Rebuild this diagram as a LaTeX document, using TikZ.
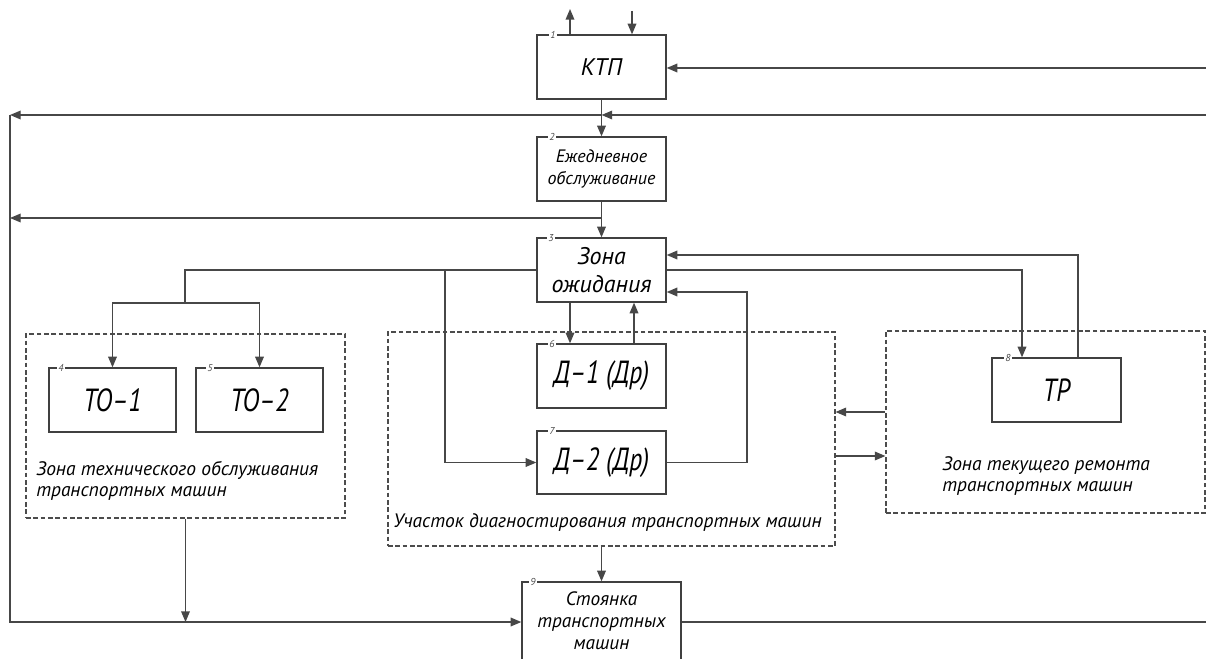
\documentclass[tikz,border=0pt]{standalone}
\usepackage{fontspec}
\setmainfont{PT Sans}
\newfontfamily\gostfont{PT Sans}
\newfontfamily\gostbig{PT Sans}[FakeStretch=0.8]
\usetikzlibrary{arrows.meta,fit}
\tikzset{
  ln/.style={draw=black!72, line width=1pt},
  conn/.style={ln, -{Triangle[length=8pt,width=6.5pt]}},
  frame/.style={draw=black!75, line width=1pt, inner sep=0pt},
  txt/.style={align=center, inner sep=0pt,
    font=\gostfont\itshape\fontsize{13.5}{16.5}\selectfont},
  txtmid/.style={txt, font=\gostfont\itshape\fontsize{18}{21}\selectfont},
  txtbig/.style={txt, font=\gostbig\itshape\fontsize{24}{26}\selectfont},
  zone/.style={draw=black!70, line width=0.8pt, dash pattern=on 3.5pt off 2pt, inner sep=0pt},
  zonetext/.style={align=left, inner sep=0pt, anchor=west,
    font=\gostfont\itshape\fontsize{14.6}{15.5}\selectfont},
  num/.style={fill=white, inner sep=1pt, font=\gostfont\itshape\fontsize{7.5}{8}\selectfont, text=black!70},
}
\begin{document}
\begin{tikzpicture}[x=0.75pt,y=-0.75pt]
\useasboundingbox (0,0) rectangle (1206,659);
\clip (0,0) rectangle (1206,659);
% zones
\node[zone, fit={(26,334) (345,518)}] (zTO) {};
\node[zone, fit={(388,332) (835,546)}] (zD) {};
\node[zone, fit={(886,331) (1205,513)}] (zTR) {};
\node[zonetext] (tTO) at (36,481) {Зона технического обслуживания\\транспортных машин};
\node[zonetext] (tD) at (393,523) {Участок диагностирования транспортных машин};
\node[zonetext] (tTR) at (942,476) {Зона текущего ремонта\\транспортных машин};
% boxes
\node[frame, fit={(537,35) (666,99)}] (ktp) {};
\node[frame, fit={(537,137) (666,201)}] (ed) {};
\node[frame, fit={(537,238) (666,302)}] (zo) {};
\node[frame, fit={(49,368) (176,432)}] (to1) {};
\node[frame, fit={(196,368) (323,432)}] (to2) {};
\node[frame, fit={(537,344) (666,408)}] (d1) {};
\node[frame, fit={(537,431) (666,494)}] (d2) {};
\node[frame, fit={(992,358) (1121,422)}] (tr) {};
\node[frame, fit={(522,582) (681,668)}] (st) {};
\node[txtmid] (lktp) at (ktp.center) {КТП};
\node[txt] (led) at (ed.center) {Ежедневное\\обслуживание};
\node[txtmid] (lzo) at (zo.center) {Зона\\ожидания};
\node[txtbig] (lto1) at (to1.center) {ТО–1};
\node[txtbig] (lto2) at (to2.center) {ТО–2};
\node[txtbig] (ld1) at (d1.center) {Д–1 (Др)};
\node[txtbig] (ld2) at (d2.center) {Д–2 (Др)};
\node[txtbig] (ltr) at (tr.center) {ТР};
\node[txt, font=\gostfont\itshape\fontsize{14.5}{16.5}\selectfont, anchor=north] (lst) at (601.5,591) {Стоянка\\транспортных\\машин};
% numbers
\node[num] (n1) at (553,35) {1};
\node[num] (n2) at (552,137) {2};
\node[num] (n3) at (551,238) {3};
\node[num] (n4) at (61,368) {4};
\node[num] (n5) at (210,368) {5};
\node[num] (n6) at (552,344) {6};
\node[num] (n7) at (552,431) {7};
\node[num] (n8) at (1008,358) {8};
\node[num] (n9) at (533,582) {9};
% coordinates
\coordinate (up) at (570,9);
\coordinate (dn) at (632,11);
\coordinate (r1) at (1206,68);
\coordinate (r2) at (1206,115);
\coordinate (l2) at (10,115);
\coordinate (l3) at (10,218);
\coordinate (bl) at (10,622);
\coordinate (br) at (1206,622);
\coordinate (split) at (185,303);
\coordinate (jd) at (445,0);
\coordinate (xa) at (570,0);
\coordinate (xb) at (634,0);
\coordinate (xc) at (747,292);
\coordinate (xd) at (1022,0);
\coordinate (xe) at (1078,255);
\coordinate (ya) at (0,412);
\coordinate (yb) at (0,456);
% connectors
\draw[conn] (up |- ktp.north) -- (up);
\draw[conn] (dn) -- (dn |- ktp.north);
\draw[conn] (r1) -- (r1 -| ktp.east);
\draw[conn] (r2) -- (r2 -| ed.north);
\draw[conn] (r2 -| ed.north) -- (l2);
\draw[conn] (ktp.south) -- (ed.north);
\draw[conn] (ed.south) -- (zo.north);
\draw[conn] (ed.south |- l3) -- (l3);
\draw[conn] (l2) -- (bl) -- (bl -| st.west);
\draw[ln] (br -| st.east) -- (br);
\draw[ln] (zo.west) -- (zo.west -| split) -- (split);
\draw[conn] (split) -| (to1.north);
\draw[conn] (split) -| (to2.north);
\draw[conn] (zo.west -| jd) -- (d2.west -| jd) -- (d2.west);
\draw[conn] (zo.south -| xa) -- (d1.north -| xa);
\draw[conn] (d1.north -| xb) -- (zo.south -| xb);
\draw[conn] (d2.east) -- (d2.east -| xc) -- (xc) -- (xc -| zo.east);
\draw[conn] (zo.east) -- (zo.east -| xd) -- (tr.north -| xd);
\draw[conn] (tr.north -| xe) -- (xe) -- (xe -| zo.east);
\draw[conn] (zTR.west |- ya) -- (zD.east |- ya);
\draw[conn] (zD.east |- yb) -- (zTR.west |- yb);
\draw[conn] (zTO.south) -- (bl -| zTO.south);
\draw[conn] (zD.south -| st.north) -- (st.north);
\end{tikzpicture}
\end{document}
